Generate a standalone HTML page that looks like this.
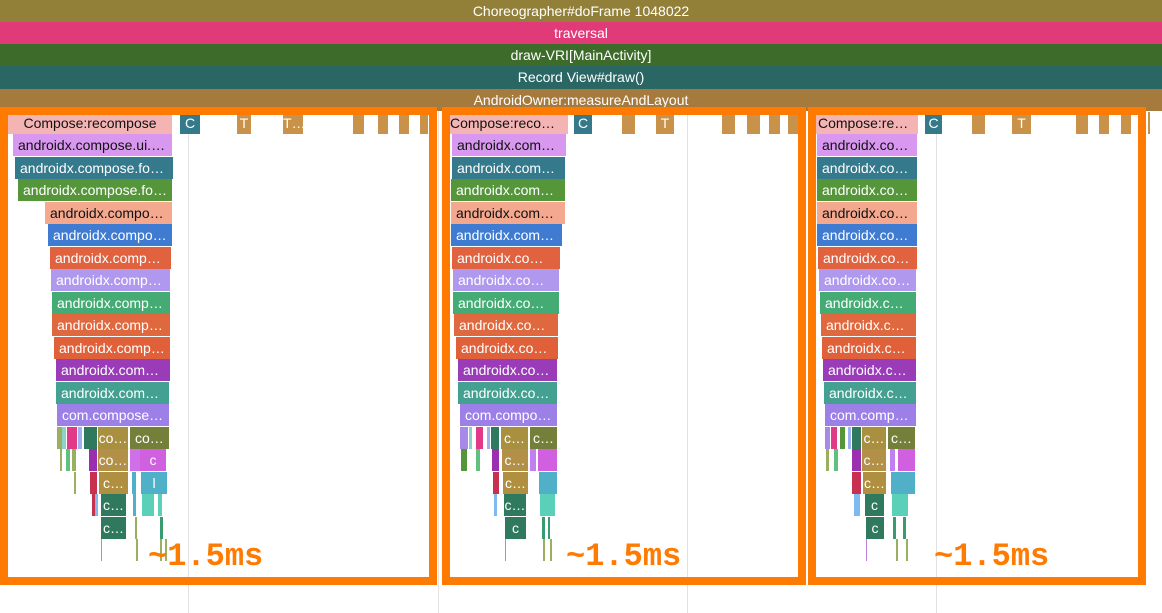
<!DOCTYPE html>
<html><head><meta charset="utf-8"><style>
body{margin:0;width:1162px;height:613px;overflow:hidden;background:#fff;position:relative;font-family:"Liberation Sans",sans-serif}
.b{position:absolute;height:22px;line-height:22px;font-size:14px;text-align:center;color:#fff;overflow:hidden;white-space:nowrap;text-overflow:ellipsis;box-sizing:border-box}
.t{position:absolute;left:0;width:1162px;height:22px;line-height:22px;font-size:14px;color:#fff;text-align:center}
.g{position:absolute;top:111px;width:1px;height:502px;background:#e2e2e2}
.box{position:absolute;border:8px solid #ff7a00;box-sizing:border-box}
.ms{position:absolute;font-family:"Liberation Mono",monospace;font-weight:bold;font-size:32px;color:#ff7a00;top:538px}
</style></head><body>
<div class="t" style="top:0;background:#928039">Choreographer#doFrame 1048022</div>
<div class="t" style="top:22px;background:#e03a78">traversal</div>
<div class="t" style="top:44px;background:#3d6b2a">draw-VRI[MainActivity]</div>
<div class="t" style="top:66px;height:23px;background:#2a6663">Record View#draw()</div>
<div class="t" style="top:89px;background:#a67a3c">AndroidOwner:measureAndLayout</div>
<div class="g" style="left:188px"></div><div class="g" style="left:438px"></div><div class="g" style="left:687px"></div><div class="g" style="left:936px"></div>
<div id="c"></div>
<div class="box" style="left:0;top:107px;width:437px;height:478px"></div>
<div class="box" style="left:442px;top:107px;width:364px;height:478px"></div>
<div class="box" style="left:808px;top:107px;width:338px;height:478px"></div>
<div class="ms" style="left:148px">~1.5ms</div>
<div class="ms" style="left:566px">~1.5ms</div>
<div class="ms" style="left:934px">~1.5ms</div>
<script>
var cols=['#f4b4b4','#d898f0','#347a8c','#55963a','#f4a88e','#3f7bd0','#e0623e','#b098ee','#45ab74','#e0683e','#e0603a','#9a3cb8','#44a090','#9c80e8'];
var names=['Compose:recompose','androidx.compose.ui.node','androidx.compose.foundation','androidx.compose.foundation','androidx.compose.ui','androidx.compose.ui','androidx.compose.ui','androidx.compose.ui','androidx.compose.ui','androidx.compose.ui','androidx.compose.ui','androidx.compose.ui','androidx.compose.ui','com.compose.performance'];
var blk=[
 {s:[8,13,15,18,45,48,50,51,52,52,54,56,56,57],e:[172,172,173,172,172,172,171,170,170,170,170,170,169,169],
  top:[[180,200,'#347a8a','C'],[237,251,'#c8924a','T'],[283,303,'#c8924a','T…'],[353,364,'#c8924a',''],[378,388,'#c8924a',''],[399,409,'#c8924a',''],[420,428,'#c8924a','']],
  low:[[14,57,62,'#9ab060'],[14,62,66,'#8fd0c8'],[14,67,77,'#e03a88'],[14,78,82,'#a0b0f0'],[14,84,97,'#2f7a5e'],[14,98,128,'#a89040','co…'],[14,130,169,'#74803a','com…'],
   [15,60,62,'#9ab060'],[15,66,70,'#60c080'],[15,72,76,'#9ab060'],[15,89,97,'#9a30b0'],[15,98,128,'#b39048','co…'],[15,130,140,'#d070e8'],[15,140,166,'#d060e0','c'],
   [16,90,97,'#c83050'],[16,99,128,'#b09040','c…'],[16,132,136,'#50b0c8'],[16,141,167,'#50b0c8','l'],[16,74,76,'#9ab060'],
   [17,92,95,'#c83050'],[17,95,98,'#80b8f0'],[17,101,126,'#2f7a5e','c…'],[17,142,154,'#5ad0b8'],[17,133,136,'#50b0c8'],[17,158,162,'#5ad0b8'],
   [18,101,126,'#2f7a5e','c…'],[18,160,163,'#3a9a70'],[18,135,137,'#9ab060'],
   [19,101,102,'#c080e0'],[19,136,138,'#9ab060'],[19,160,162,'#9ab060'],[19,165,167,'#9ab060']]},
 {s:[445,452,452,451,451,451,452,453,453,454,456,458,458,460],e:[568,566,565,565,565,562,560,559,559,558,558,557,557,557],
  top:[[574,592,'#347a8a','C'],[622,635,'#c8924a',''],[656,674,'#c8924a','T'],[722,735,'#c8924a',''],[747,760,'#c8924a',''],[769,780,'#c8924a',''],[788,798,'#c8924a','']],
  low:[[14,460,468,'#a888e8'],[14,469,472,'#8fd0c8'],[14,476,483,'#e03a88'],[14,487,490,'#a0b0f0'],[14,491,499,'#2f7a5e'],[14,501,528,'#a89040','c…'],[14,530,557,'#74803a','c…'],
   [15,461,467,'#55963a'],[15,476,480,'#60c080'],[15,492,499,'#9a30b0'],[15,502,528,'#b39048','c…'],[15,530,536,'#c080f0'],[15,538,557,'#d060e0'],
   [16,493,499,'#c83050'],[16,503,528,'#b09040','c…'],[16,539,557,'#50b0c8'],
   [17,494,497,'#80b8f0'],[17,504,526,'#2f7a5e','c…'],[17,540,555,'#5ad0b8'],
   [18,505,526,'#2f7a5e','c'],[18,542,545,'#3a9a70'],[18,548,550,'#3a9a70'],
   [19,505,506,'#c080e0'],[19,543,545,'#9ab060'],[19,550,552,'#9ab060']]},
 {s:[813,817,817,817,817,817,818,819,820,821,822,823,824,825],e:[918,917,917,917,917,917,917,916,916,916,916,916,916,916],
  top:[[925,942,'#347a8a','C'],[972,985,'#c8924a',''],[1012,1031,'#c8924a','T'],[1076,1088,'#c8924a',''],[1099,1109,'#c8924a',''],[1121,1131,'#c8924a',''],[1148,1150,'#c8924a','']],
  low:[[14,825,830,'#a888e8'],[14,831,837,'#e03a88'],[14,840,845,'#55963a'],[14,848,851,'#a0b0f0'],[14,852,861,'#2f7a5e'],[14,862,886,'#a89040','c…'],[14,888,915,'#74803a','c…'],
   [15,826,829,'#9ab060'],[15,834,838,'#60c080'],[15,852,861,'#9a30b0'],[15,862,886,'#b39048','c…'],[15,890,895,'#c080f0'],[15,898,915,'#d060e0'],
   [16,852,861,'#c83050'],[16,863,886,'#b09040','c…'],[16,891,915,'#50b0c8'],
   [17,854,860,'#80b8f0'],[17,865,884,'#2f7a5e','c'],[17,892,908,'#5ad0b8'],
   [18,866,884,'#2f7a5e','c'],[18,893,896,'#3a9a70'],[18,903,906,'#3a9a70'],
   [19,866,867,'#c080e0'],[19,896,898,'#9ab060'],[19,906,908,'#9ab060']]}
];
var h='';
function bx(r,x0,x1,c,t,tc){h+='<div class="b" style="left:'+x0+'px;top:'+(111.5+22.5*r).toFixed(1)+'px;width:'+(x1-x0)+'px;background:'+c+';color:'+(tc||'#fff')+';padding:0 '+((x1-x0)>30?5:0)+'px">'+(t||'')+'</div>';}
blk.forEach(function(b){
 for(var i=0;i<14;i++){bx(i,b.s[i],b.e[i],cols[i],names[i],(i==0||i==1||i==4)?'#111':'#fff');}
 b.top.forEach(function(q){bx(0,q[0],q[1],q[2],q[3]);});
 b.low.forEach(function(q){bx(q[0],q[1],q[2],q[3],q[4]);});
});
document.getElementById('c').innerHTML=h;
</script>
</body></html>
